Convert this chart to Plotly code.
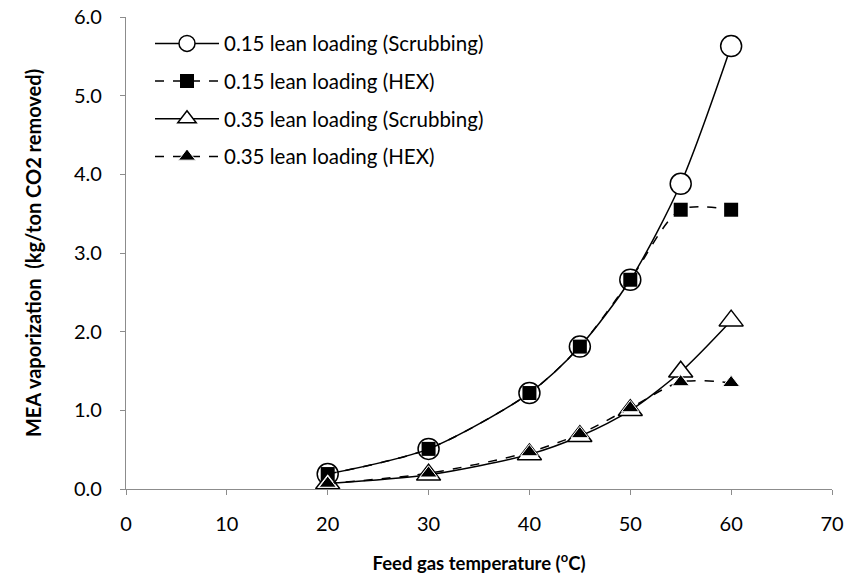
import plotly.graph_objects as go

temps = [20, 30, 40, 45, 50, 55, 60]
scrub_015 = [0.19, 0.51, 1.22, 1.81, 2.66, 3.88, 5.63]
hex_015 = [0.19, 0.51, 1.22, 1.81, 2.66, 3.55, 3.55]
scrub_035 = [0.07, 0.18, 0.44, 0.67, 1.00, 1.49, 2.14]
hex_035 = [0.07, 0.20, 0.47, 0.70, 1.03, 1.36, 1.35]

names = ["0.15 lean loading (Scrubbing)", "0.15 lean loading (HEX)",
         "0.35 lean loading (Scrubbing)", "0.35 lean loading (HEX)"]

x_ticks = [0, 10, 20, 30, 40, 50, 60, 70]
y_ticks = [0, 1, 2, 3, 4, 5, 6]

FONT = "Lato, Open Sans, sans-serif"

fig = go.Figure()
specs = [
    (scrub_015, names[0], "solid", dict(symbol="circle", size=21, color="white", line=dict(color="black", width=1.5))),
    (hex_015, names[1], "dash", dict(symbol="square", size=14, color="black", line=dict(color="black", width=0))),
    (scrub_035, names[2], "solid", dict(symbol="triangle-up", size=21, color="white", line=dict(color="black", width=1.5))),
    (hex_035, names[3], "dash", dict(symbol="triangle-up", size=15, color="black", line=dict(color="white", width=1))),
]
for i, (ys, nm, dash, mk) in enumerate(specs):
    fig.add_trace(go.Scatter(
        x=temps, y=ys, name=nm, mode="lines+markers",
        line=dict(color="black", width=1.5, dash=dash, shape="spline", smoothing=0.8),
        marker=mk, legendgroup=f"g{i}",
    ))

fig.update_layout(
    width=851, height=579,
    margin=dict(l=126, r=19, t=17, b=90),
    plot_bgcolor="white", paper_bgcolor="white",
    font=dict(family=FONT, size=20, color="black"),
    showlegend=True,
    legend=dict(x=0.034, y=0.986, xanchor="left", yanchor="top",
                bgcolor="rgba(0,0,0,0)", font=dict(size=20.5, family=FONT),
                itemwidth=64, tracegroupgap=8, traceorder="grouped"),
    xaxis=dict(range=[0, 70], tickvals=x_ticks, showgrid=False, zeroline=False,
               showline=True, linecolor="#8c8c8c", linewidth=1.2, automargin=False,
               ticks="outside", tickcolor="#8c8c8c", ticklen=5, tickwidth=1.2,
               tickfont=dict(size=20), ticklabelstandoff=12,
               title=dict(text="<b>Feed gas temperature (<sup>o</sup>C)</b>", font=dict(size=18.5), standoff=22)),
    yaxis=dict(range=[0, 6], tickvals=y_ticks, tickformat=".1f", showgrid=False, zeroline=False,
               showline=True, linecolor="#8c8c8c", linewidth=1.2, automargin=False,
               ticks="outside", tickcolor="#8c8c8c", ticklen=5, tickwidth=1.2,
               tickfont=dict(size=20), ticklabelstandoff=14,
               title=dict(text="<b>MEA vaporization  (kg/ton CO2 removed)</b>", font=dict(size=20), standoff=26)),
)

fig.write_html("out.html")
